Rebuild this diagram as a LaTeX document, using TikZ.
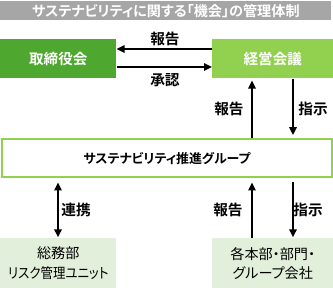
\documentclass[tikz,border=0pt]{standalone}
\usepackage{fontspec}
\usetikzlibrary{arrows.meta}
\newfontfamily\jp{Noto Sans CJK JP}[RawFeature=+palt]
\newfontfamily\jpb{Noto Sans CJK JP Bold}[RawFeature=+palt]
\definecolor{titlegray}{HTML}{A6A6A6}
\definecolor{darkgreen}{HTML}{4EA72E}
\definecolor{lightgreen}{HTML}{92D050}
\definecolor{palegreen}{HTML}{E2EFDA}
\begin{document}
\begin{tikzpicture}[x=0.75pt,y=-0.75pt,
  box/.style={rectangle,inner sep=0pt,anchor=north west},
  arr/.style={line width=1.5pt,-{Triangle[length=6pt,width=5.5pt]}},
  darr/.style={line width=1.5pt,{Triangle[length=6pt,width=5.5pt]}-{Triangle[length=6pt,width=5.5pt]}},
  lbl/.style={font=\jpb\fontsize{11}{13}\selectfont,inner sep=0pt}]
\useasboundingbox (0,0) rectangle (333,288);
% title
\node[box,fill=titlegray,minimum width=331*0.75pt,minimum height=19*0.75pt] (title) at (0,1) {};
\node[font=\jpb\fontsize{10.6}{12}\selectfont,text=white,inner sep=0pt] (titletext) at (title.center) {サステナビリティに関する「機会」の管理体制};
% top boxes
\node[box,fill=darkgreen,minimum width=116*0.75pt,minimum height=39*0.75pt,
  font=\jpb\fontsize{10.9}{12}\selectfont,text=white] (board) at (0,39) {取締役会};
\node[box,fill=lightgreen,minimum width=121*0.75pt,minimum height=39*0.75pt,
  font=\jpb\fontsize{10.9}{12}\selectfont,text=white] (mgmt) at (212,39) {経営会議};
% group
\node[box,draw=lightgreen,line width=1.5pt,fill=white,minimum width=329*0.75pt,minimum height=38*0.75pt,
  font=\jpb\fontsize{9.7}{11}\selectfont] (group) at (1.5,138.5) {サステナビリティ推進グループ};
% bottom boxes
\node[box,fill=palegreen,minimum width=116*0.75pt,minimum height=50*0.75pt,align=center,
  font=\jp\fontsize{10.6}{14.5}\selectfont] (soumu) at (0,238) {総務部\\\scalebox{0.88}[1]{リスク管理ユニット}};
\node[box,fill=palegreen,minimum width=121*0.75pt,minimum height=50*0.75pt,align=center,
  font=\jp\fontsize{10.6}{14.5}\selectfont] (depts) at (212,238) {各本部・部門・\\グループ会社};
% helper coordinates
\coordinate (yA) at (0,49);
\coordinate (yB) at (0,67);
\coordinate (xL) at (58,0);
\coordinate (xU) at (252,0);
\coordinate (xD) at (293,0);
% top horizontal arrows
\draw[arr] (mgmt.west |- yA) -- (board.east |- yA);
\draw[arr] (board.east |- yB) -- (mgmt.west |- yB);
\node[lbl] (l1) at (165,39) {報告};
\node[lbl] (l2) at (165,80) {承認};
% upper vertical arrows
\draw[arr,shorten >=1.5pt] (group.north -| xU) -- (mgmt.south -| xU);
\draw[arr,shorten >=2.5pt] (mgmt.south -| xD) -- (group.north -| xD);
\node[lbl] (l3) at (229,109) {報告};
\node[lbl] (l4) at (313,109) {指示};
% lower vertical arrows
\draw[darr,shorten <=3pt,shorten >=0.5pt] (group.south -| xL) -- (soumu.north -| xL);
\draw[arr,shorten >=3pt] (depts.north -| xU) -- (group.south -| xU);
\draw[arr,shorten <=3pt,shorten >=0.5pt] (group.south -| xD) -- (depts.north -| xD);
\node[lbl] (l5) at (76,210) {連携};
\node[lbl] (l6) at (228,210) {報告};
\node[lbl] (l7) at (308,210) {指示};
\end{tikzpicture}
\end{document}
